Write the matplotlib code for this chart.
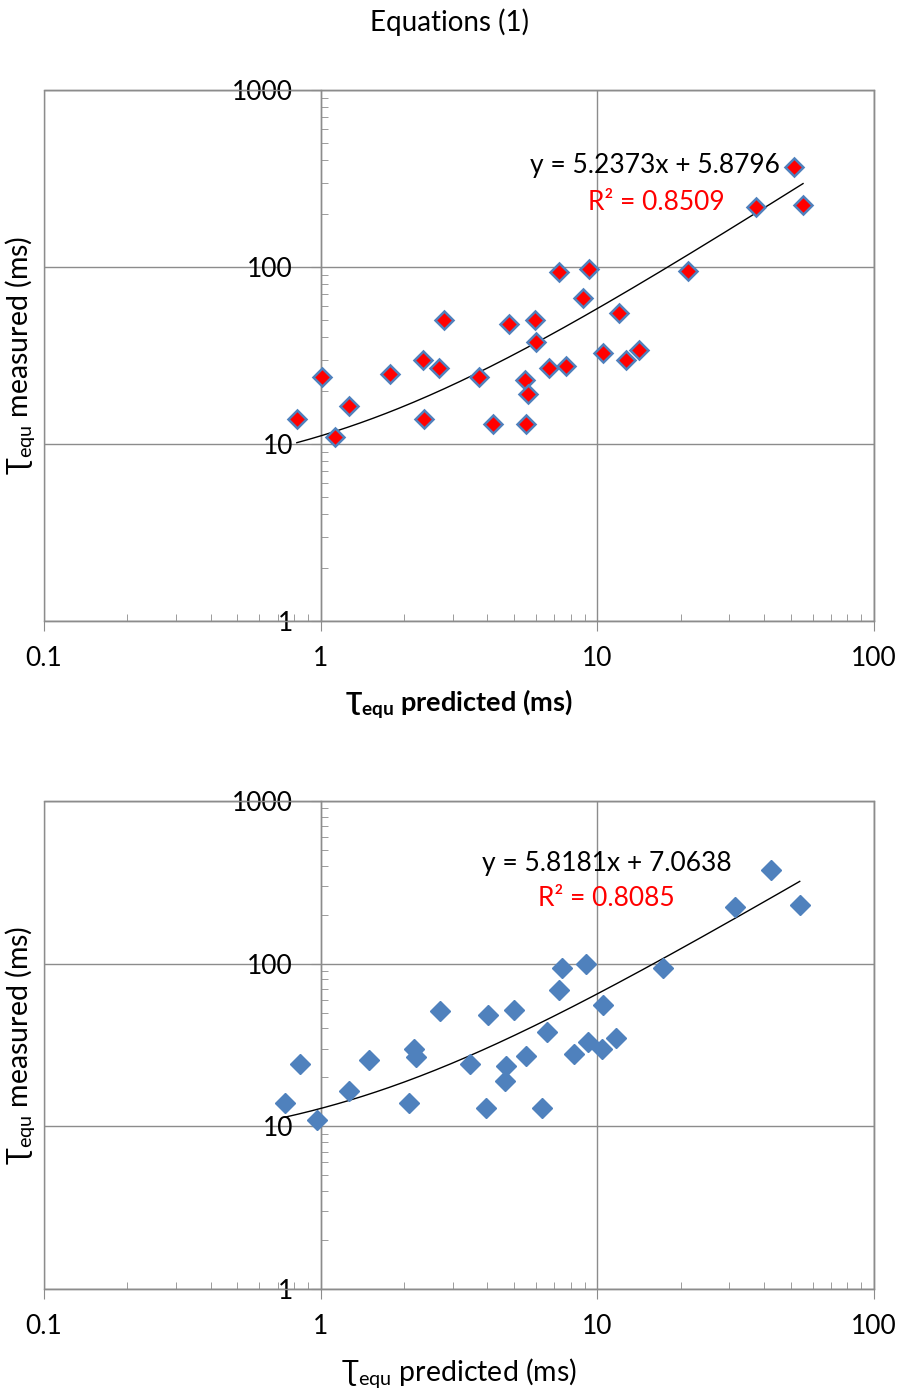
import numpy as np
import matplotlib.pyplot as plt
from matplotlib.ticker import LogLocator, NullFormatter
from matplotlib.patches import Rectangle

plt.rcParams['font.family'] = ['Lato', 'DejaVu Sans']
plt.rcParams['mathtext.fontset'] = 'custom'
plt.rcParams['mathtext.rm'] = 'Lato'
plt.rcParams['mathtext.bf'] = 'Lato:bold'
plt.rcParams['mathtext.fallback'] = 'stixsans'

# top panel: predicted vs measured (ms)
top_pred = [0.82, 1.01, 1.13, 1.27, 1.78, 2.34, 2.37, 2.67, 2.80, 3.72,
            4.18, 4.81, 5.50, 5.63, 5.53, 5.97, 6.00, 6.71, 7.29, 7.73,
            8.90, 9.36, 10.5, 12.0, 12.7, 14.1, 21.3, 37.5, 51.4, 55.4]
top_meas = [13.9, 23.9, 10.9, 16.4, 24.9, 29.9, 13.9, 26.9, 50.3, 23.9,
            13.0, 47.8, 23.0, 19.2, 13.0, 50.3, 37.8, 26.9, 94.0, 27.6,
            67.0, 97.8, 32.7, 55.0, 29.9, 34.0, 95.0, 219, 369, 225]
top_fit = (5.2373, 5.8796)
top_r2 = '0.8509'

# bottom panel
bot_pred = [0.746, 0.840, 0.970, 1.27, 1.50, 2.08, 2.17, 2.22, 2.71, 3.47,
            3.96, 4.04, 4.68, 4.65, 5.01, 5.53, 6.32, 6.56, 7.25, 7.46,
            8.26, 9.10, 9.23, 10.4, 10.45, 11.7, 17.3, 31.5, 42.4, 53.9]
bot_meas = [14.0, 24.0, 11.0, 16.6, 25.4, 14.0, 30.0, 26.8, 51.1, 24.0,
            13.0, 48.1, 23.5, 19.0, 51.6, 27.0, 13.0, 38.2, 68.8, 94.5,
            27.7, 100, 33.2, 30.0, 55.7, 34.8, 94.5, 223, 376, 231]
bot_fit = (5.8181, 7.0638)
bot_r2 = '0.8085'

gray = '#8c8c8c'
blue = '#4f81bd'


def setup(ax, bold_x, xlabel_size):
    ax.set_xscale('log')
    ax.set_yscale('log')
    ax.set_xlim(0.1, 100)
    ax.set_ylim(1, 1000)
    ax.set_axisbelow(True)

    # y axis crosses at x = 1
    ax.spines['left'].set_position(('data', 1))
    for s in ax.spines.values():
        s.set_color(gray)
        s.set_linewidth(1)
    ax.add_patch(Rectangle((0, 0), 1, 1, transform=ax.transAxes, fill=False,
                           edgecolor=gray, lw=1, clip_on=False, zorder=0.5))

    ax.set_xticks([0.1, 1, 10, 100])
    ax.set_xticklabels(['0.1', '1', '10', '100'])
    ax.set_yticks([1, 10, 100, 1000])
    ax.set_yticklabels(['1', '10', '100', '1000'])
    ax.xaxis.set_minor_locator(LogLocator(base=10, subs=range(2, 10)))
    ax.yaxis.set_minor_locator(LogLocator(base=10, subs=range(2, 10)))
    ax.xaxis.set_minor_formatter(NullFormatter())
    ax.yaxis.set_minor_formatter(NullFormatter())

    ax.tick_params(axis='x', which='major', direction='out', length=7,
                   color=gray, labelsize=19, pad=11)
    ax.tick_params(axis='y', which='major', direction='out', length=7,
                   color=gray, labelsize=19, pad=13)
    ax.tick_params(which='minor', direction='in', length=5, color=gray)
    ax.grid(True, which='major', color=gray, lw=1)

    ax.set_xlabel(r'$\mathregular{Ʈ_{equ}}$ predicted (ms)', fontsize=xlabel_size,
                  fontweight='bold' if bold_x else 'normal', labelpad=12)
    ax.set_ylabel(r'$\mathregular{Ʈ_{equ}}$ measured (ms)', fontsize=20.5)
    ax.yaxis.set_label_coords(-0.008, 0.5)


def trend(ax, xdata, fit):
    xs = np.geomspace(min(xdata), max(xdata), 200)
    ax.plot(xs, fit[0] * xs + fit[1], color='black', lw=1, zorder=3)


fig = plt.figure(figsize=(9, 13.89), dpi=100)
fig.text(0.5, 1 - 22 / 1389, 'Equations (1)', ha='center', va='center', fontsize=20)

ax1 = fig.add_axes([0.0489, 0.5529, 0.9222, 0.3823])
setup(ax1, True, 19.5)
ax1.plot(top_pred, top_meas, 'D', ms=9.5, mfc='red', mec=blue, mew=1.8,
         ls='none', zorder=4)
trend(ax1, top_pred, top_fit)
ax1.text(0.736, 0.857, 'y = %.4fx + %.4f' % top_fit, transform=ax1.transAxes,
         ha='center', va='center', fontsize=19)
ax1.text(0.738, 0.789, 'R² = ' + top_r2, transform=ax1.transAxes,
         ha='center', va='center', fontsize=19, color='red')

ax2 = fig.add_axes([0.0489, 0.0720, 0.9222, 0.3513])
setup(ax2, False, 20.5)
ax2.plot(bot_pred, bot_meas, 'D', ms=10.5, mfc=blue, mec=blue, mew=1,
         ls='none', zorder=4)
trend(ax2, bot_pred, bot_fit)
ax2.text(0.678, 0.873, 'y = %.4fx + %.4f' % bot_fit, transform=ax2.transAxes,
         ha='center', va='center', fontsize=19)
ax2.text(0.678, 0.801, 'R² = ' + bot_r2, transform=ax2.transAxes,
         ha='center', va='center', fontsize=19, color='red')

fig.savefig('out.png', dpi=100)
